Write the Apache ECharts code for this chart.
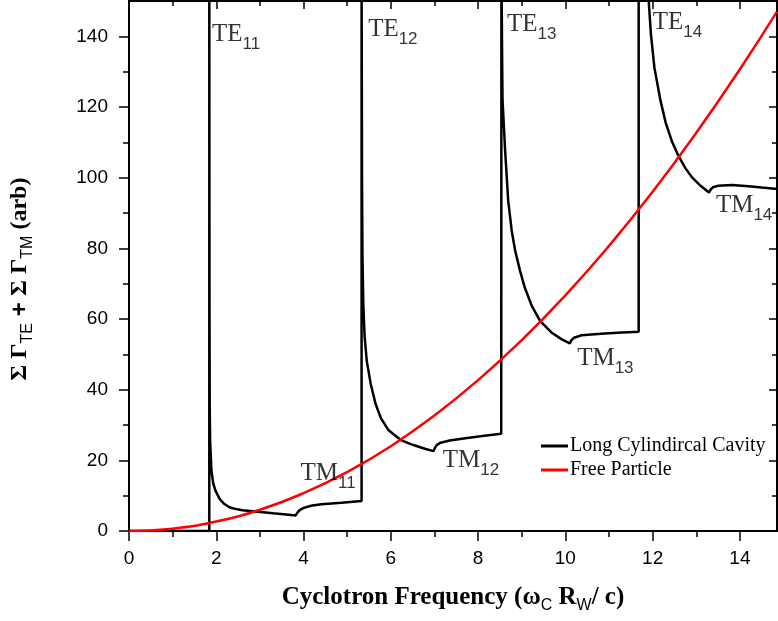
<!DOCTYPE html>
<html><head><meta charset="utf-8">
<script src="https://cdn.jsdelivr.net/npm/echarts@6/dist/echarts.min.js"></script>
<style>html,body{margin:0;padding:0;background:#fff}#c{width:778px;height:621px}</style>
</head><body><div id="c"></div>
<script>
// ---- data ----
const xMajor = [0, 2, 4, 6, 8, 10, 12, 14];
const xMinor = [1, 3, 5, 7, 9, 11, 13];
const yMajor = [0, 20, 40, 60, 80, 100, 120, 140];
const yMinor = [10, 30, 50, 70, 90, 110, 130];

// Long cylindrical cavity, piecewise segments [x, y]
const cavitySeg0 = [[0, 0], [1.84, 0], [1.84, 160]];
const cavitySeg1 = [[1.842, 160], [1.845, 60], [1.85, 34], [1.86, 25], [1.89, 17], [1.93, 13.5], [1.98, 11.5],
  [2.08, 9], [2.18, 7.7], [2.3, 6.7], [2.45, 6.2], [2.6, 5.9], [2.9, 5.5], [3.3, 5.0], [3.6, 4.7], [3.82, 4.4],
  [3.86, 5.2], [3.91, 5.9], [3.98, 6.4], [4.07, 6.8], [4.2, 7.2], [4.41, 7.6], [4.87, 8.0], [5.33, 8.5], [5.33, 160]];
const cavitySeg2 = [[5.335, 160], [5.34, 100], [5.35, 78], [5.37, 64], [5.40, 55], [5.45, 48], [5.54, 41.6],
  [5.65, 36], [5.77, 32], [5.95, 28.5], [6.22, 25.8], [6.5, 24.4], [6.8, 23.2], [6.98, 22.6], [7.01, 23.5],
  [7.05, 24.3], [7.14, 25], [7.35, 25.6], [7.75, 26.3], [8.1, 26.9], [8.53, 27.5], [8.535, 160]];
const cavitySeg3 = [[8.54, 160], [8.55, 135], [8.56, 122], [8.62, 107.6], [8.69, 93.5], [8.77, 85], [8.85, 79.3],
  [8.96, 73.7], [9.07, 68.9], [9.23, 63.7], [9.42, 59.5], [9.68, 56.2], [9.91, 54.3], [10.1, 53.1], [10.14, 54.0],
  [10.2, 54.7], [10.37, 55.4], [10.9, 55.9], [11.3, 56.2], [11.68, 56.4], [11.68, 160]];
const cavitySeg4 = [[11.75, 175], [11.91, 150], [11.96, 140.7], [12.04, 131.2], [12.18, 121.8], [12.3, 115.5],
  [12.45, 110], [12.59, 106.2], [12.75, 102.7], [12.91, 100], [13.1, 97.7], [13.29, 95.8], [13.33, 96.6],
  [13.38, 97.3], [13.5, 97.7], [13.82, 97.9], [14.2, 97.6], [14.5, 97.2], [14.85, 96.8]];

// Free particle
const freeX = [0, 1, 2, 3, 4, 5, 6, 7, 8, 9, 10, 11, 12, 13, 14, 14.85];
const freeY = [0, 0.67, 2.7, 6, 10.7, 16.7, 24, 32.7, 42.7, 54, 66.7, 80.7, 96, 112.7, 130.7, 147];

// Mode annotations
const modeMain = ['TE', 'TE', 'TE', 'TE', 'TM', 'TM', 'TM', 'TM'];
const modeSub = ['11', '12', '13', '14', '11', '12', '13', '14'];
const modeX = [1.9, 5.48, 8.66, 12.0, 3.93, 7.19, 10.27, 13.45];
const modeY = [140.6, 142, 143.5, 144, 16.4, 20.1, 48.9, 92.2];

const seriesNames = ['Long Cylindircal Cavity', 'Free Particle'];

// ---- chart ----
const cavity = [].concat(cavitySeg0, cavitySeg1, cavitySeg2, cavitySeg3, cavitySeg4);
const free = freeX.map((x, i) => [x, freeY[i]]);
const modes = modeX.map((x, i) => ({ value: [x, modeY[i]], main: modeMain[i], sub: modeSub[i] }));

const SERIF = '"Liberation Serif", "Times New Roman", serif';
const SANS = '"Liberation Sans", Arial, sans-serif';
const XMAX = 14.85, YMAX = 150;

function xAx(pos, vals, len, inside, labels) {
  return {
    type: 'value', position: pos, min: 0, max: XMAX, interval: 1,
    axisLine: { show: true, onZero: false, lineStyle: { color: '#000', width: 2 } },
    axisTick: { show: true, inside: inside, length: len, customValues: vals, lineStyle: { color: '#000', width: 1.5 } },
    axisLabel: labels ? { show: true, customValues: xMajor, margin: 18, color: '#000', fontFamily: SANS, fontSize: 19 } : { show: false },
    splitLine: { show: false }
  };
}
function yAx(pos, vals, len, inside, labels) {
  return {
    type: 'value', position: pos, min: 0, max: YMAX, interval: 10,
    axisLine: { show: true, onZero: false, lineStyle: { color: '#000', width: 2 } },
    axisTick: { show: true, inside: inside, length: len, customValues: vals, lineStyle: { color: '#000', width: 1.5 } },
    axisLabel: labels ? { show: true, customValues: yMajor, margin: 21, color: '#000', fontFamily: SANS, fontSize: 19 } : { show: false },
    splitLine: { show: false }
  };
}

const xAxes = [
  xAx('bottom', xMajor, 10, false, true),
  xAx('bottom', xMinor, 6, false, false),
  xAx('top', xMajor, 8, true, false),
  xAx('top', xMinor, 5, true, false)
];
xAxes[0].name = '{b|Cyclotron Frequency (ω}{s|C}{b| R}{s|W}{b|/ c)}';
xAxes[0].nameLocation = 'middle';
xAxes[0].nameGap = 50;
xAxes[0].nameTextStyle = {
  rich: {
    b: { fontFamily: SERIF, fontWeight: 'bold', fontSize: 25, color: '#000' },
    s: { fontFamily: SANS, fontSize: 16, color: '#000', padding: [17, 0, 0, 0] }
  }
};

const yAxes = [
  yAx('left', yMajor, 10, false, true),
  yAx('left', yMinor, 6, false, false),
  yAx('right', yMajor, 8, true, false),
  yAx('right', yMinor, 5, true, false)
];
yAxes[0].name = '{g|Σ Γ}{s|TE}{p| + }{g|Σ Γ}{s|TM}{g| (arb)}';
yAxes[0].nameLocation = 'middle';
yAxes[0].nameRotate = 90;
yAxes[0].nameGap = 93;
yAxes[0].nameTextStyle = {
  padding: [0, 26, 0, 0],
  rich: {
    g: { fontFamily: SERIF, fontWeight: 'bold', fontSize: 24, color: '#000' },
    p: { fontFamily: SANS, fontWeight: 'bold', fontSize: 24, color: '#000' },
    s: { fontFamily: SANS, fontSize: 16, color: '#000', padding: [16, 0, 0, 0] }
  }
};

const chart = echarts.init(document.getElementById('c'), null, { renderer: 'canvas' });
chart.setOption({
  animation: false,
  backgroundColor: '#fff',
  grid: { left: 127, right: 1, top: 1, bottom: 90, containLabel: false },
  xAxis: xAxes,
  yAxis: yAxes,
  legend: {
    orient: 'vertical', left: 536, top: 431, itemGap: 4,
    itemWidth: 27, itemHeight: 3, icon: 'rect',
    textStyle: { fontFamily: SERIF, fontSize: 20, color: '#000', padding: [0, 0, 0, -3] },
    data: seriesNames
  },
  series: [
    {
      name: seriesNames[0], type: 'line', data: cavity, showSymbol: false, symbol: 'none',
      lineStyle: { color: '#000', width: 2.5 }, itemStyle: { color: '#000' }, z: 3, clip: true
    },
    {
      name: seriesNames[1], type: 'line', data: free, smooth: true, showSymbol: false, symbol: 'none',
      lineStyle: { color: '#ff0000', width: 2.5 }, itemStyle: { color: '#ff0000' }, z: 4, clip: true
    },
    {
      name: 'modes', type: 'scatter', data: modes, symbolSize: 0, silent: true, z: 5,
      label: {
        show: true, position: 'right', distance: 0,
        formatter: p => '{m|' + p.data.main + '}{s|' + p.data.sub + '}',
        rich: {
          m: { fontFamily: SERIF, fontSize: 25, color: '#000' },
          s: { fontFamily: SANS, fontSize: 17, color: '#000', padding: [20, 0, 0, 0] }
        }
      }
    }
  ]
});
</script></body></html>
